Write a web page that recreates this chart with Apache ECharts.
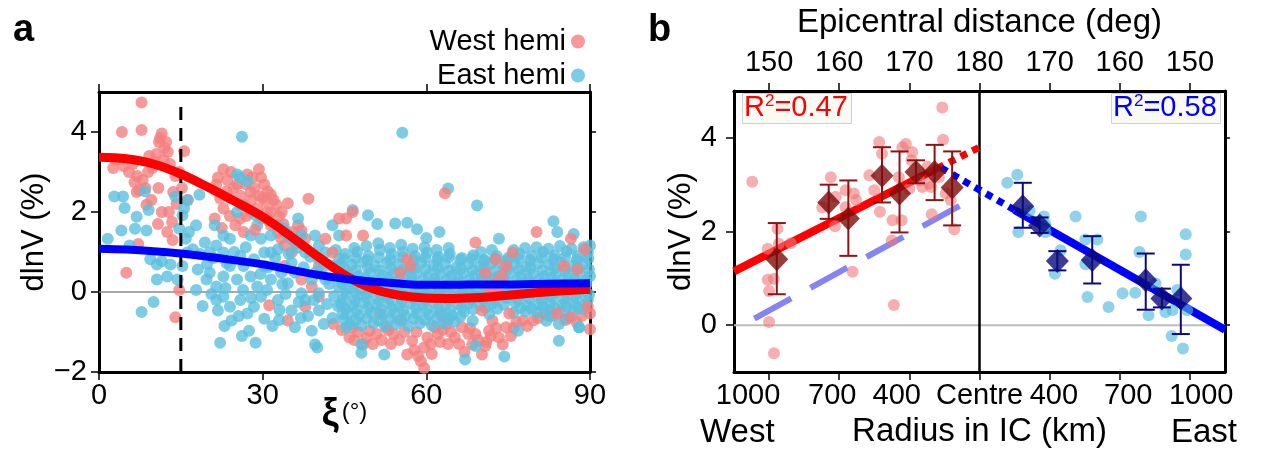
<!DOCTYPE html>
<html>
<head>
<meta charset="utf-8">
<script src="https://cdn.jsdelivr.net/npm/echarts@6.0.0/dist/echarts.min.js"></script>
<style>
  html, body { margin: 0; padding: 0; background: #fff; }
  #main { width: 1270px; height: 451px; }
</style>
</head>
<body>
<div id="main"></div>
<script>
// ---------- panel a : dlnV against xi ----------
const xiTicks = [0, 30, 60, 90];
const dlnvTicksA = [-2, 0, 2, 4];

// West hemisphere points (drawn under the East points)
const westHemi = [
  [7.8,4.74],[4.2,4.0],[7.8,4.05],[11.5,3.96],[11.0,3.75],[12.0,3.6],[10.5,3.45],[11.8,3.3],[12.6,3.5],
  [10.2,3.25],[9.8,3.1],[13.0,3.2],[3.0,3.3],[2.6,3.1],[4.5,3.15],[5.5,3.0],[7.0,2.9],[8.0,2.8],[6.5,2.75],
  [9.0,3.0],[8.5,2.6],[7.4,2.55],[6.9,2.5],[8.7,2.18],[10.9,2.6],[9.6,2.3],[11.5,2.0],[12.8,2.0],[13.4,1.75],
  [12.5,1.5],[14.0,2.9],[14.7,3.0],[15.6,3.52],[15.2,2.6],[16.3,2.3],[7.2,1.2],[5.0,0.48],[14.0,-0.63],
  [14.7,0.05],[13.5,1.3],[10.8,1.7],[11.2,3.85],[12.3,3.75],[9.2,3.4],[6.2,3.2],[13.6,2.5],[14.2,2.2],
  [22.8,3.07],[21.8,2.86],[21.5,2.69],[23.4,2.52],[22.2,2.35],[24.7,2.6],[25.3,2.69],[27.2,2.94],[28.1,2.86],
  [29.3,3.07],[29.7,2.86],[30.3,2.69],[30.9,2.52],[31.5,2.43],[32.5,2.18],[30.6,2.26],[29.0,2.09],[27.8,2.0],
  [26.5,2.18],[25.9,1.84],[29.7,1.84],[31.5,1.67],[32.8,1.5],[33.4,1.33],[34.6,2.22],[37.1,1.54],[37.8,1.33],
  [38.4,2.33],[36.5,1.67],[34.0,1.16],[35.3,0.99],[25.0,1.67],[24.0,2.35],[22.8,2.09],[21.2,1.84],[31.5,2.0],
  [34.0,0.65],[37.1,0.31],[40.3,0.65],[31.2,-0.33],[34.6,-0.71],[37.8,-0.37],[40.3,-0.12],[39.0,0.14],
  [23.5,2.8],[24.2,3.0],[26.0,2.4],[26.8,2.7],[27.9,2.3],[28.5,2.6],[29.4,2.4],[30.8,2.0],[31.0,1.8],
  [32.0,2.3],[33.5,2.0],[33.8,1.7],[35.5,1.5],[36.0,1.2],[26.5,1.5],[24.0,1.9],[22.5,1.6],[27.0,1.9],
  [45.9,-1.14],[46.5,-0.88],[48.4,-1.31],[49.6,-0.97],[50.9,-1.05],[52.7,-0.88],[54.0,-1.05],[55.2,-0.71],
  [56.5,-1.56],[57.4,-1.22],[59.0,-1.73],[59.6,-1.9],[59.6,-1.39],[60.2,-1.14],[61.5,-0.88],[62.1,-1.05],
  [63.7,-0.8],[65.2,-1.14],[66.5,-0.88],[68.4,-1.31],[67.7,-1.05],[70.2,-1.56],[69.0,-1.05],[71.5,-0.97],
  [72.1,-0.71],[74.0,-1.31],[73.3,-1.14],[74.6,-0.88],[77.7,-0.71],[79.6,-0.71],[81.5,-0.54],[90.0,-0.93],
  [51.5,-0.54],[58.2,-1.0],[64.0,-1.3],[71.0,-1.25],[76.0,-0.9],[62.8,-0.6],[53.5,-1.3],
  [47.5,-1.0],[49.0,-1.15],[50.2,-1.3],[51.8,-1.2],[53.0,-0.95],[55.0,-1.2],[56.0,-1.0],[57.8,-1.45],
  [58.5,-1.6],[60.8,-1.3],[61.0,-1.55],[62.5,-1.25],[63.0,-0.95],[64.5,-1.0],[66.0,-1.3],[67.0,-1.5],
  [68.0,-0.9],[69.5,-1.2],[70.8,-1.35],[71.8,-1.1],[72.8,-0.9],[75.5,-1.1],[76.5,-0.75],[78.5,-0.85],
  [80.5,-0.65],[82.5,-0.6],[85.5,-0.7],[87.5,-0.75],[88.5,-0.6],[46.8,-1.2],[44.5,-0.95],[43.0,-0.8]
];
// West hemisphere points that show on top of the East cloud
const westHemiTop = [
  [56.5,0.82],[57.1,0.65],[55.2,0.48],[73.3,-0.03],[72.4,0.22],[70.8,0.48],[74.6,0.65],[72.7,0.82],
  [75.8,0.99],[69.0,1.24],[80.2,1.5],[86.5,1.33],[89.0,1.07],[85.2,0.65],[87.7,0.56],[89.0,0.14],
  [90.0,-0.54],[89.6,-0.37],[45.3,1.84],[46.5,2.0],[44.0,1.84],[45.3,1.41],[48.4,1.41],[41.5,1.33],
  [42.8,0.99],[70.2,-0.46],[63.4,2.47],[75.2,-0.54],[86.5,-0.63],[84.0,-0.54],[27.8,2.5],[30.0,2.35],
  [33.0,1.9],[28.6,1.55],[73.8,0.4],[71.6,0.05]
];
const eastHemi = [
  [1.6,1.33],[2.8,2.39],[4.4,2.39],[4.7,2.1],[4.1,1.54],[6.6,1.58],[8.7,1.54],[8.4,2.52],[9.1,2.05],
  [6.9,1.88],[5.6,1.16],[7.8,-0.5],[10.0,-0.25],[9.4,0.82],[10.6,0.69],[11.5,0.77],[13.1,0.69],[12.5,0.39],
  [10.6,0.31],[14.0,2.39],[15.6,2.09],[15.3,1.92],[16.2,2.3],[17.8,1.67],[18.4,2.43],[16.5,1.5],[15.9,1.33],
  [17.2,1.07],[19.4,1.24],[14.7,1.58],[14.4,0.31],[15.3,0.65],[16.2,0.99],[18.1,0.56],[17.8,0.05],[19.7,0.31],
  [21.2,1.67],[22.8,1.41],[21.5,1.16],[22.8,0.99],[24.0,1.33],[25.3,2.0],[25.9,2.18],[25.9,2.86],[25.3,2.94],
  [27.2,2.77],[28.7,1.92],[29.7,1.33],[31.5,0.99],[32.8,1.67],[34.6,1.41],[36.5,1.84],[37.1,1.41],[34.0,1.58],
  [37.8,0.99],[40.3,1.16],[41.5,0.99],[20.3,0.48],[21.5,0.14],[22.8,0.39],[24.0,0.65],[25.3,0.31],[26.5,0.65],
  [27.8,0.39],[29.0,0.14],[30.3,0.65],[31.5,0.31],[33.4,0.48],[34.6,0.22],[35.9,0.48],[37.1,-0.03],[39.0,0.31],
  [40.3,-0.03],[41.5,0.31],[42.8,0.65],[44.0,0.14],[21.5,-0.2],[22.8,-0.12],[24.0,-0.37],[25.9,-0.2],
  [27.2,-0.54],[28.4,-0.37],[29.7,-0.12],[32.8,-0.2],[35.3,-0.46],[37.8,-0.2],[40.3,-0.46],[42.8,-0.65],
  [21.8,-0.46],[24.3,-0.71],[27.5,-0.97],[30.3,-0.67],[35.9,-0.88],[39.0,-0.97],[22.2,-1.27],[28.7,-1.27],
  [39.6,-1.31],[40.0,-1.39],[20.3,0.99],[27.8,1.41],[25.9,0.9],[30.3,0.99],[32.8,1.07],[35.3,0.73],[40.3,0.82],
  [44.0,0.82],[35.3,1.33],[29.0,1.67],[31.5,1.41],[39.6,1.41],[44.0,1.41],[42.8,1.67],[26.2,3.88],
  [55.6,3.98],[64.0,2.59],[69.3,2.16],[83.3,1.77],[54.3,1.71],[56.5,1.73],[49.3,1.92],[46.5,2.05],[62.4,1.5],
  [73.3,1.33],[84.0,1.5],[90.0,1.16],[45.3,-0.88],[48.1,-1.31],[48.1,-1.52],[52.3,-1.56],[67.1,-1.69],
  [69.0,-1.35],[74.3,-1.61],[84.3,-1.22],[88.0,-0.88],[76.8,-0.97],[58.3,1.57],[60.0,1.35],[51.0,1.7],[87.0,1.45]
];
// the dense East cloud between 17 and 90 degrees
const eastHemiDense = [
  [18.5,0.95],[19.8,0.7],[21.0,0.85],[23.4,0.72],[24.8,1.0],[26.9,1.12],[28.4,0.82],[29.6,0.45],[31.0,0.62],
  [32.3,0.85],[33.6,0.2],[34.8,0.95],[36.2,1.1],[37.5,0.62],[38.7,0.88],[39.8,0.5],[41.0,0.62],[42.2,0.2],
  [43.4,1.05],[44.2,0.45],[19.0,-0.35],[20.6,-0.05],[23.2,0.1],[26.4,0.05],[27.9,-0.15],[30.8,0.05],
  [33.1,-0.45],[34.2,-0.05],[36.6,-0.25],[38.3,-0.6],[39.4,-0.2],[41.8,-0.3],[43.1,-0.1],[44.6,-0.55],
  [23.0,-0.85],[25.6,-0.6],[26.2,-1.1],[31.8,-0.85],[33.0,-0.7],[37.0,-0.65],[41.2,-0.8],[43.8,-0.35],
  [46.8,1.1],[49.0,1.15],[51.2,1.22],[53.3,1.1],[55.4,1.18],[57.5,1.08],[59.7,1.12],[61.9,1.05],[64.1,1.1],
  [70.0,1.0],[72.0,1.05],[76.0,1.05],[78.1,1.1],[80.2,1.12],[82.4,1.08],[84.5,1.15],[86.6,1.08],[88.8,1.12],
  [45.1,0.95],[47.3,1.0],[49.4,0.9],[51.5,1.05],[53.6,0.95],[55.7,1.0],[57.9,0.9],[60.1,0.98],[62.2,0.88],
  [64.3,0.95],[66.5,0.85],[68.6,0.92],[70.7,0.8],[72.9,0.9],[75.0,0.85],[77.1,0.95],[79.3,0.9],[81.4,1.0],
  [83.5,0.92],[85.7,1.02],[87.8,0.9],[89.6,0.98],
  [44.9,0.83],[47.0,0.85],[49.2,0.8],[51.3,0.86],[53.4,0.82],[55.6,0.87],[57.7,0.8],[59.8,0.85],[62.0,0.81],
  [64.1,0.86],[66.2,0.8],[68.4,0.84],[70.5,0.78],[72.6,0.83],[74.8,0.79],[76.9,0.84],[79.0,0.8],[81.2,0.86],
  [83.3,0.82],[85.4,0.87],[87.6,0.81],[89.7,0.84],
  [44.3,0.7],[46.4,0.68],[48.5,0.75],[50.6,0.65],[52.8,0.72],[54.9,0.7],[57.0,0.62],[59.1,0.74],[61.3,0.66],
  [63.4,0.7],[65.5,0.62],[67.7,0.7],[69.8,0.64],[71.9,0.72],[74.1,0.66],[76.2,0.7],[78.3,0.64],[80.5,0.72],
  [82.6,0.68],[84.7,0.74],[86.9,0.66],[89.0,0.7],
  [45.0,0.57],[47.1,0.55],[49.3,0.6],[51.4,0.54],[53.5,0.58],[55.7,0.55],[57.8,0.6],[59.9,0.56],[62.1,0.59],
  [64.2,0.53],[66.3,0.58],[68.5,0.55],[70.6,0.6],[72.7,0.54],[74.9,0.58],[77.0,0.55],[79.1,0.6],[81.3,0.54],
  [83.4,0.58],[85.5,0.55],[87.7,0.6],[89.8,0.56],
  [45.5,0.45],[47.6,0.4],[49.7,0.48],[51.9,0.42],[54.0,0.46],[56.1,0.4],[58.2,0.47],[60.4,0.42],[62.5,0.45],
  [64.6,0.4],[66.8,0.47],[68.9,0.41],[71.0,0.44],[73.2,0.39],[75.3,0.46],[77.4,0.42],[79.6,0.45],[81.7,0.4],
  [83.8,0.47],[86.0,0.42],[88.1,0.45],[90.0,0.4],
  [44.5,0.33],[46.6,0.3],[48.8,0.35],[50.9,0.29],[53.0,0.34],[55.1,0.31],[57.3,0.35],[59.4,0.3],[61.5,0.33],
  [63.7,0.29],[65.8,0.34],[67.9,0.3],[70.1,0.35],[72.2,0.31],[74.3,0.33],[76.5,0.28],[78.6,0.34],[80.7,0.3],
  [82.9,0.35],[85.0,0.31],[87.1,0.33],[89.3,0.29],
  [44.6,0.2],[46.7,0.18],[48.8,0.24],[51.0,0.16],[53.1,0.22],[55.2,0.18],[57.3,0.24],[59.5,0.17],[61.6,0.21],
  [63.7,0.16],[65.9,0.22],[68.0,0.18],[70.1,0.23],[72.3,0.15],[74.4,0.2],[76.5,0.17],[78.7,0.23],[80.8,0.18],
  [82.9,0.21],[85.1,0.16],[87.2,0.22],[89.3,0.18],
  [45.8,0.08],[47.9,0.05],[50.0,0.1],[52.2,0.04],[54.3,0.09],[56.4,0.06],[58.6,0.1],[60.7,0.05],[62.8,0.08],
  [65.0,0.04],[67.1,0.09],[69.2,0.06],[71.4,0.1],[73.5,0.05],[75.6,0.08],[77.8,0.04],[79.9,0.09],[82.0,0.06],
  [84.2,0.1],[86.3,0.05],[88.4,0.08],
  [45.3,-0.05],[47.4,-0.08],[49.5,-0.02],[51.7,-0.07],[53.8,-0.03],[55.9,-0.09],[58.0,-0.04],[60.2,-0.08],
  [62.3,-0.02],[64.4,-0.07],[66.6,-0.03],[68.7,-0.09],[70.8,-0.04],[73.0,-0.07],[75.1,-0.02],[77.2,-0.08],
  [79.4,-0.04],[81.5,-0.06],[83.6,-0.02],[85.8,-0.08],[87.9,-0.03],[89.8,-0.06],
  [44.8,-0.17],[46.9,-0.2],[49.1,-0.15],[51.2,-0.19],[53.3,-0.16],[55.5,-0.21],[57.6,-0.15],[59.7,-0.2],
  [61.9,-0.16],[64.0,-0.19],[66.1,-0.15],[68.3,-0.2],[70.4,-0.17],[72.5,-0.21],[74.7,-0.15],[76.8,-0.19],
  [78.9,-0.16],[81.1,-0.2],[83.2,-0.15],[85.3,-0.19],[87.5,-0.16],[89.6,-0.2],
  [44.4,-0.3],[46.5,-0.33],[48.6,-0.27],[50.8,-0.31],[52.9,-0.28],[55.0,-0.34],[57.1,-0.29],[59.3,-0.32],
  [61.4,-0.27],[63.5,-0.33],[65.7,-0.3],[67.8,-0.28],[69.9,-0.34],[72.1,-0.29],[74.2,-0.31],[76.3,-0.27],
  [78.5,-0.33],[80.6,-0.3],[82.7,-0.28],[84.9,-0.32],[87.0,-0.29],[89.1,-0.31],
  [45.2,-0.42],[47.3,-0.45],[49.4,-0.4],[51.6,-0.44],[53.7,-0.41],[55.8,-0.46],[58.0,-0.4],[60.1,-0.44],
  [62.2,-0.41],[64.4,-0.45],[66.5,-0.4],[68.6,-0.43],[70.8,-0.39],[73.0,-0.42],[77.2,-0.4],[79.3,-0.42],
  [81.5,-0.38],[83.6,-0.41],[85.7,-0.37],[87.9,-0.4],
  [45.6,-0.55],[47.7,-0.58],[49.8,-0.52],[52.0,-0.57],[54.1,-0.53],[56.2,-0.59],[58.3,-0.54],[60.5,-0.56],
  [62.6,-0.52],[64.7,-0.58],[66.9,-0.5],[71.5,-0.55],[76.0,-0.52],[78.2,-0.48],[80.3,-0.5],[82.5,-0.45],
  [84.6,-0.5],[86.8,-0.46],[88.9,-0.44],
  [44.9,-0.68],[47.0,-0.7],[49.1,-0.66],[51.3,-0.71],[53.4,-0.67],[55.5,-0.72],[57.7,-0.66],[59.8,-0.7],
  [61.9,-0.65],[64.0,-0.68],[66.2,-0.62],[83.0,-0.6],[86.0,-0.65],
  [46.0,-0.8],[48.1,-0.84],[50.3,-0.78],[52.4,-0.85],[54.5,-0.8],[56.7,-0.86],[58.8,-0.79],[61.0,-0.83],
  [63.1,-0.78],[65.2,-0.74],[68.5,-0.72],[82.0,-0.72],[84.3,-0.8],[88.0,-0.88]
];
const curveXi = [0,5,10,15,20,25,30,35,40,45,50,55,60,65,70,75,80,85,90];
const westCurveY = [3.37,3.33,3.2,2.95,2.62,2.26,1.88,1.41,0.9,0.43,0.09,-0.08,-0.15,-0.16,-0.14,-0.08,-0.02,0.03,0.07];
const eastCurveY = [1.08,1.06,1.02,0.96,0.88,0.79,0.69,0.56,0.43,0.33,0.26,0.21,0.18,0.18,0.19,0.19,0.2,0.21,0.22];
const xiCut = [[15,-2],[15,4.75]];

// ---------- panel b : dlnV against distance from antipode ----------
const distTicks = [-30, -20, -10, 0, 10, 20, 30];
const distLabels = ['150', '160', '170', '180', '170', '160', '150'];
const radiusPos = [-33, -21, -11.8, 0, 10.6, 21.2, 31.6];
const radiusLabels = ['1000', '700', '400', 'Centre', '400', '700', '1000'];
const dlnvTicksB = [0, 2, 4];

const westDots = [
  [-32.4,3.06],[-30,0.07],[-29.3,-0.6],[-30,0.73],[-30.2,0.97],[-29.3,0.99],[-30.2,1.63],[-28.8,2.06],
  [-28.6,1.74],[-26.9,1.75],[-21.2,3.16],[-22.4,2.52],[-20.5,2.74],[-20.6,2.11],[-18.1,1.14],[-19.1,2.88],
  [-17.9,2.81],[-17.6,2.67],[-15,2.88],[-14.2,2.42],[-14.3,3.91],[-13.9,3.66],[-12.2,0.43],[-12.5,1.81],
  [-12.4,2.24],[-11.1,2.24],[-11.5,3.16],[-10.5,3.87],[-11,3.8],[-9.6,3.7],[-9.7,3.52],[-8.6,3.09],
  [-8.15,2.95],[-7.4,3.38],[-7.2,3.02],[-6.8,2.37],[-6.9,2.95],[-5.3,4.65],[-5.2,3.96],[-5.8,3.16],
  [-4.8,2.81],[-3.6,2.05],[-4.1,2.67],[-10,2.91],[-15.7,3.2],[-19.1,2.52]
];
const eastDots = [
  [3.96,3.04],[5.38,3.21],[5.53,1.99],[7.15,2.44],[9.19,2.32],[9.43,1.99],[10.75,1.1],[11.56,1.6],
  [13.7,2.32],[15.1,1.83],[16.8,1.83],[15.1,1.3],[15.4,0.6],[18.4,0.39],[20.4,0.68],[22.2,0.69],[23,2.32],
  [22.8,1.56],[24.1,0.21],[25.1,0.89],[26.5,0.28],[27.5,0.32],[28.2,0.75],[29.4,1.94],[29.4,1.51],
  [29.6,0.32],[27.4,-0.23],[29.0,-0.5],[9.4,2.15]
];
// [distance, mean, lower, upper]
const westBins = [
  [-28.9,1.41,0.66,2.18],[-21.5,2.62,2.27,3.0],[-18.7,2.28,1.48,3.09],[-13.9,3.19,2.62,3.8],
  [-11.4,2.81,1.98,3.71],[-9.05,3.27,3.03,3.52],[-6.4,3.27,2.67,3.85],[-3.9,2.94,2.13,3.71]
];
const eastBins = [
  [6.17,2.54,2.08,3.04],[8.57,2.13,1.97,2.3],[11.1,1.37,1.17,1.58],[16.07,1.39,0.89,1.9],
  [23.7,0.96,0.33,1.53],[26.0,0.57,0.38,0.78],[28.7,0.57,-0.19,1.29]
];
const westFit = [[-35,1.15],[-6,3.35]];
const westFitExt = [[-6,3.35],[0,3.8]];
const eastFit = [[5,2.46],[35,-0.1]];
const eastFitExt = [[-5.5,3.36],[5,2.46]];
const eastMirror = [[-32.1,0.14],[0,2.78]];

const font = '"Liberation Sans", Arial, Helvetica, sans-serif';
const minus = (v) => (v < 0 ? '\u2212' + Math.abs(v) : String(v));

function zip(xs, ys) {
  return xs.map((x, i) => [x, ys[i]]);
}

function errBars(color) {
  return function (params, api) {
    const x = api.value(0);
    const lo = api.coord([x, api.value(2)]);
    const hi = api.coord([x, api.value(3)]);
    const w = 9;
    const style = { stroke: color, lineWidth: 2 };
    return {
      type: 'group',
      children: [
        { type: 'line', shape: { x1: lo[0], y1: lo[1], x2: hi[0], y2: hi[1] }, style },
        { type: 'line', shape: { x1: lo[0] - w, y1: lo[1], x2: lo[0] + w, y2: lo[1] }, style },
        { type: 'line', shape: { x1: hi[0] - w, y1: hi[1], x2: hi[0] + w, y2: hi[1] }, style },
      ],
    };
  };
}

const boxLine = { show: true, onZero: false, lineStyle: { color: '#000', width: 3 } };
const tickStyle = { lineStyle: { color: '#000', width: 1.5 } };
const r2Rich = (c) => ({
  r: { fontSize: 29, fontFamily: font, color: c, lineHeight: 30 },
  s: { fontSize: 17, fontFamily: font, color: c, verticalAlign: 'top', lineHeight: 30 },
});

var myChart = echarts.init(document.getElementById('main'));
var option = {
  animation: false,
  textStyle: { fontFamily: font },
  grid: [
    { left: 99, top: 92, width: 491, height: 280, outerBoundsMode: 'none', containLabel: false },
    { left: 734, top: 91, width: 491, height: 281, outerBoundsMode: 'none', containLabel: false },
  ],
  legend: {
    data: ['West hemi', 'East hemi'],
    orient: 'vertical',
    right: 680,
    top: 22,
    align: 'right',
    itemGap: 5,
    icon: 'circle',
    itemWidth: 14,
    itemHeight: 14,
    selectedMode: false,
    textStyle: { fontSize: 29, color: '#000', fontFamily: font },
  },
  graphic: [
    { type: 'text', left: 13, top: 12, style: { text: 'a', font: 'bold 38px ' + font, fill: '#000' } },
    { type: 'text', left: 648, top: 12, style: { text: 'b', font: 'bold 38px ' + font, fill: '#000' } },
    { type: 'text', left: 700, top: 416, style: { text: 'West', font: '33px ' + font, fill: '#000' } },
    { type: 'text', left: 1171, top: 416, style: { text: 'East', font: '33px ' + font, fill: '#000' } },
    {
      type: 'rect', left: 742, top: 93, shape: { width: 109, height: 30 },
      style: { fill: 'rgba(250,250,244,0.9)', stroke: '#d0d0d0', lineWidth: 1 },
    },
    {
      type: 'text', left: 744, top: 93,
      style: { text: '{r|R}{s|2}{r|=0.47}', fill: '#ff0000', rich: r2Rich('#ff0000') },
    },
    {
      type: 'rect', left: 1111, top: 93, shape: { width: 109, height: 30 },
      style: { fill: 'rgba(250,250,244,0.9)', stroke: '#d0d0d0', lineWidth: 1 },
    },
    {
      type: 'text', left: 1113, top: 93,
      style: { text: '{r|R}{s|2}{r|=0.58}', fill: '#0000ff', rich: r2Rich('#0000ff') },
    },
  ],
  xAxis: [
    {
      gridIndex: 0, type: 'value', position: 'bottom', min: 0, max: 90,
      axisLine: boxLine, splitLine: { show: false },
      axisTick: { show: true, inside: false, length: 8, customValues: xiTicks, ...tickStyle },
      axisLabel: { customValues: xiTicks, fontSize: 29, color: '#000', margin: 9 },
      name: '{x|\u03BE}{d|(\u00B0)}', nameLocation: 'middle', nameGap: 24, nameMoveOverlap: false,
      nameTextStyle: {
        rich: {
          x: { fontSize: 38, fontWeight: 'bold', fontFamily: font, color: '#000' },
          d: { fontSize: 24, fontFamily: font, color: '#000', padding: [0, 0, 6, 3] },
        },
      },
    },
    {
      gridIndex: 0, type: 'value', position: 'top', min: 0, max: 90,
      axisLine: boxLine, splitLine: { show: false },
      axisTick: { show: true, inside: false, length: 8, customValues: xiTicks, ...tickStyle },
      axisLabel: { show: false },
    },
    {
      gridIndex: 1, type: 'value', position: 'bottom', min: -35, max: 35,
      axisLine: boxLine, splitLine: { show: false },
      axisTick: { show: true, inside: false, length: 8, customValues: distTicks, ...tickStyle },
      axisLabel: {
        customValues: radiusPos, fontSize: 29, color: '#000', margin: 9,
        formatter: (v) => radiusLabels[radiusPos.indexOf(v)],
      },
      name: 'Radius in IC (km)', nameLocation: 'middle', nameGap: 43,
      nameTextStyle: { fontSize: 33, color: '#000' },
    },
    {
      gridIndex: 1, type: 'value', position: 'top', min: -35, max: 35,
      axisLine: boxLine, splitLine: { show: false },
      axisTick: { show: true, inside: false, length: 8, customValues: distTicks, ...tickStyle },
      axisLabel: {
        customValues: distTicks, fontSize: 29, color: '#000', margin: 14,
        formatter: (v) => distLabels[distTicks.indexOf(v)],
      },
      name: 'Epicentral distance (deg)', nameLocation: 'middle', nameGap: 52,
      nameTextStyle: { fontSize: 33, color: '#000' },
    },
  ],
  yAxis: [
    {
      gridIndex: 0, type: 'value', position: 'left', min: -2, max: 5,
      axisLine: boxLine, splitLine: { show: false },
      axisTick: { show: true, inside: false, length: 8, customValues: dlnvTicksA, ...tickStyle },
      axisLabel: { customValues: dlnvTicksA, fontSize: 29, color: '#000', margin: 12, formatter: minus },
      name: 'dlnV (%)', nameLocation: 'middle', nameRotate: 90, nameGap: 49,
      nameTextStyle: { fontSize: 31, color: '#000' },
    },
    {
      gridIndex: 0, type: 'value', position: 'right', min: -2, max: 5,
      axisLine: boxLine, splitLine: { show: false },
      axisTick: { show: true, inside: false, length: 6, customValues: dlnvTicksA, ...tickStyle },
      axisLabel: { show: false },
    },
    {
      gridIndex: 1, type: 'value', position: 'left', min: -1, max: 5,
      axisLine: boxLine, splitLine: { show: false },
      axisTick: { show: true, inside: false, length: 8, customValues: dlnvTicksB, ...tickStyle },
      axisLabel: { customValues: dlnvTicksB, fontSize: 29, color: '#000', margin: 17 },
      name: 'dlnV (%)', nameLocation: 'middle', nameRotate: 90, nameGap: 34,
      nameTextStyle: { fontSize: 31, color: '#000' },
    },
    {
      gridIndex: 1, type: 'value', position: 'right', min: -1, max: 5,
      axisLine: boxLine, splitLine: { show: false },
      axisTick: { show: true, inside: false, length: 5, customValues: dlnvTicksB, ...tickStyle },
      axisLabel: { show: false },
    },
  ],
  series: [
    // panel a
    {
      type: 'line', xAxisIndex: 0, yAxisIndex: 0, data: [[0, 0], [90, 0]], symbol: 'none', silent: true,
      lineStyle: { color: '#8a8a8a', width: 1.5 }, z: 1,
    },
    {
      name: 'West hemi', type: 'scatter', xAxisIndex: 0, yAxisIndex: 0, data: westHemi,
      symbolSize: 12, itemStyle: { color: '#f3817f' }, z: 2,
    },
    {
      name: 'East hemi', type: 'scatter', xAxisIndex: 0, yAxisIndex: 0, data: eastHemi.concat(eastHemiDense),
      symbolSize: 12, itemStyle: { color: '#5bbfdf' }, z: 2,
    },
    {
      name: 'West hemi', type: 'scatter', xAxisIndex: 0, yAxisIndex: 0, data: westHemiTop,
      symbolSize: 12, itemStyle: { color: '#f3817f' }, z: 2,
    },
    {
      type: 'line', xAxisIndex: 0, yAxisIndex: 0, data: xiCut, symbol: 'none', silent: true,
      lineStyle: { color: '#000', width: 3, type: [13, 8] }, z: 3,
    },
    {
      type: 'line', xAxisIndex: 0, yAxisIndex: 0, data: zip(curveXi, westCurveY), smooth: 0.35,
      symbol: 'none', lineStyle: { color: '#ff0000', width: 9 }, z: 4,
    },
    {
      type: 'line', xAxisIndex: 0, yAxisIndex: 0, data: zip(curveXi, eastCurveY), smooth: 0.35,
      symbol: 'none', lineStyle: { color: '#0000ff', width: 8 }, z: 4,
    },
    // panel b
    {
      type: 'line', xAxisIndex: 2, yAxisIndex: 2, data: [[-35, 0], [35, 0]], symbol: 'none', silent: true,
      lineStyle: { color: '#bdbdbd', width: 2 }, z: 1,
    },
    {
      type: 'line', xAxisIndex: 2, yAxisIndex: 2, data: [[0, -1], [0, 5]], symbol: 'none', silent: true,
      lineStyle: { color: '#000', width: 2.5 }, z: 1,
    },
    {
      type: 'line', xAxisIndex: 2, yAxisIndex: 2, data: eastMirror, symbol: 'none',
      lineStyle: { color: 'rgba(110,110,240,0.85)', width: 6, type: [42, 22], cap: 'butt' }, z: 2,
    },
    {
      type: 'line', xAxisIndex: 2, yAxisIndex: 2, data: westFit, symbol: 'none',
      lineStyle: { color: '#ff0000', width: 8 }, z: 2,
    },
    {
      type: 'line', xAxisIndex: 2, yAxisIndex: 2, data: westFitExt, symbol: 'none',
      lineStyle: { color: '#ff0000', width: 7, type: [7, 6], cap: 'butt' }, z: 2,
    },
    {
      type: 'line', xAxisIndex: 2, yAxisIndex: 2, data: eastFitExt, symbol: 'none',
      lineStyle: { color: '#0000ff', width: 7, type: [7, 6], cap: 'butt' }, z: 2,
    },
    {
      type: 'line', xAxisIndex: 2, yAxisIndex: 2, data: eastFit, symbol: 'none',
      lineStyle: { color: '#0000ff', width: 8 }, z: 2,
    },
    {
      type: 'scatter', xAxisIndex: 2, yAxisIndex: 2, data: westDots, symbolSize: 12,
      itemStyle: { color: 'rgba(240,120,120,0.75)' }, z: 3,
    },
    {
      type: 'scatter', xAxisIndex: 2, yAxisIndex: 2, data: eastDots, symbolSize: 12,
      itemStyle: { color: 'rgba(80,185,220,0.8)' }, z: 3,
    },
    {
      type: 'custom', xAxisIndex: 2, yAxisIndex: 2, data: westBins, renderItem: errBars('#8b1414'),
      encode: { x: 0, y: [2, 3] }, z: 4,
    },
    {
      type: 'custom', xAxisIndex: 2, yAxisIndex: 2, data: eastBins, renderItem: errBars('#0a0a80'),
      encode: { x: 0, y: [2, 3] }, z: 4,
    },
    {
      type: 'scatter', xAxisIndex: 2, yAxisIndex: 2, data: westBins.map((b) => [b[0], b[1]]),
      symbol: 'diamond', symbolSize: [23, 24], itemStyle: { color: '#7d0a0a' }, z: 5,
    },
    {
      type: 'scatter', xAxisIndex: 2, yAxisIndex: 2, data: eastBins.map((b) => [b[0], b[1]]),
      symbol: 'diamond', symbolSize: [23, 24], itemStyle: { color: '#0a0a7a' }, z: 5,
    },
  ],
};

option && myChart.setOption(option);
</script>
</body>
</html>
